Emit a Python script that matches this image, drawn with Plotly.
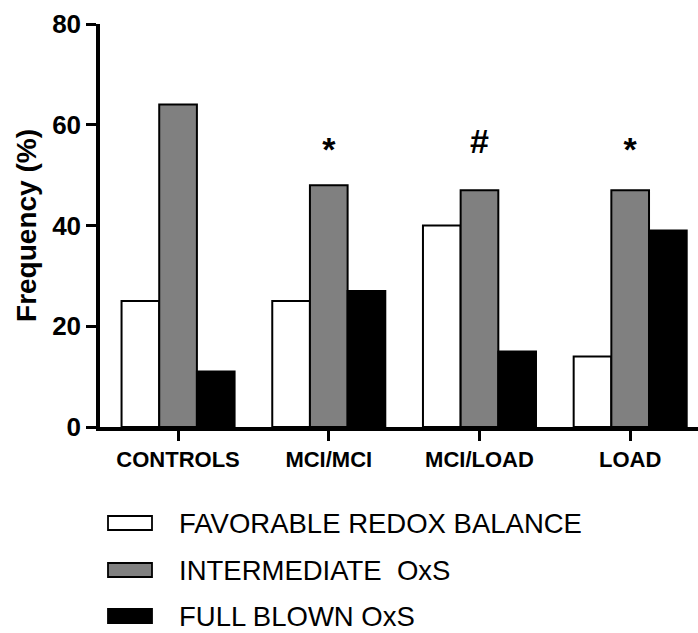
import plotly.graph_objects as go

categories = ["CONTROLS", "MCI/MCI", "MCI/LOAD", "LOAD"]
favorable = [25, 25, 40, 14]
intermediate = [64, 48, 47, 47]
full_blown = [11, 27, 15, 39]
series_names = ["FAVORABLE REDOX BALANCE", "INTERMEDIATE  OxS", "FULL BLOWN OxS"]
sig_labels = ["", "*", "#", "*"]
sig_y = [None, 54.5, 56, 54.5]
y_ticks = [0, 20, 40, 60, 80]

colors = ["#ffffff", "#808080", "#000000"]
FONT = "Arial, Liberation Sans, sans-serif"

W, H = 698, 633
ML, MR, MT, MB = 100, 0, 24, 206
PW, PH = W - ML - MR, H - MT - MB

fig = go.Figure()
for name, vals, col in zip(series_names, [favorable, intermediate, full_blown], colors):
    fig.add_trace(go.Bar(
        x=categories, y=vals, name=name, showlegend=False,
        marker=dict(color=col, line=dict(color="black", width=2)),
    ))

fig.add_trace(go.Scatter(
    x=categories, y=sig_y, text=sig_labels, mode="text", showlegend=False,
    textfont=dict(family=FONT, size=34, color="black", weight="bold"),
    textposition="middle center",
))


def px_x(p):
    return (p - ML) / PW


def px_y(p):
    return (H - MB - p) / PH


shapes = []
annotations = []
row_centers = [523, 570, 616]
for name, col, yc in zip(series_names, colors, row_centers):
    shapes.append(dict(
        type="rect", xref="paper", yref="paper",
        x0=px_x(108), x1=px_x(152), y0=px_y(yc + 7), y1=px_y(yc - 7),
        fillcolor=col, line=dict(color="black", width=1.8),
    ))
    annotations.append(dict(
        xref="paper", yref="paper", x=px_x(177), y=px_y(yc),
        xanchor="left", yanchor="middle", showarrow=False, text=name,
        font=dict(family=FONT, size=27.5, color="black"),
    ))

fig.update_layout(
    width=W, height=H,
    margin=dict(l=ML, r=MR, t=MT, b=MB),
    paper_bgcolor="white", plot_bgcolor="white",
    barmode="group", bargap=0.25, bargroupgap=0,
    shapes=shapes, annotations=annotations,
    font=dict(family=FONT, color="black"),
)
fig.update_xaxes(
    range=[-0.518, 3.45], showline=True, linecolor="black", linewidth=3.5,
    ticks="outside", ticklen=10, tickwidth=3, tickcolor="black",
    tickfont=dict(family=FONT, size=22, color="black", weight="bold"),
    showgrid=False, zeroline=False,
)
fig.update_yaxes(
    range=[0, 80], tickvals=y_ticks, showline=True, linecolor="black", linewidth=3.5,
    ticks="outside", ticklen=10, tickwidth=3, tickcolor="black",
    tickfont=dict(family=FONT, size=26, color="black", weight="bold"),
    title=dict(text="Frequency (%)", standoff=8,
               font=dict(family=FONT, size=28, color="black", weight="bold")),
    showgrid=False, zeroline=False,
)

fig.write_html(
    "out.html",
    config={"displayModeBar": False},
    post_script="document.body.style.margin='0px';document.body.style.overflow='hidden';",
)
